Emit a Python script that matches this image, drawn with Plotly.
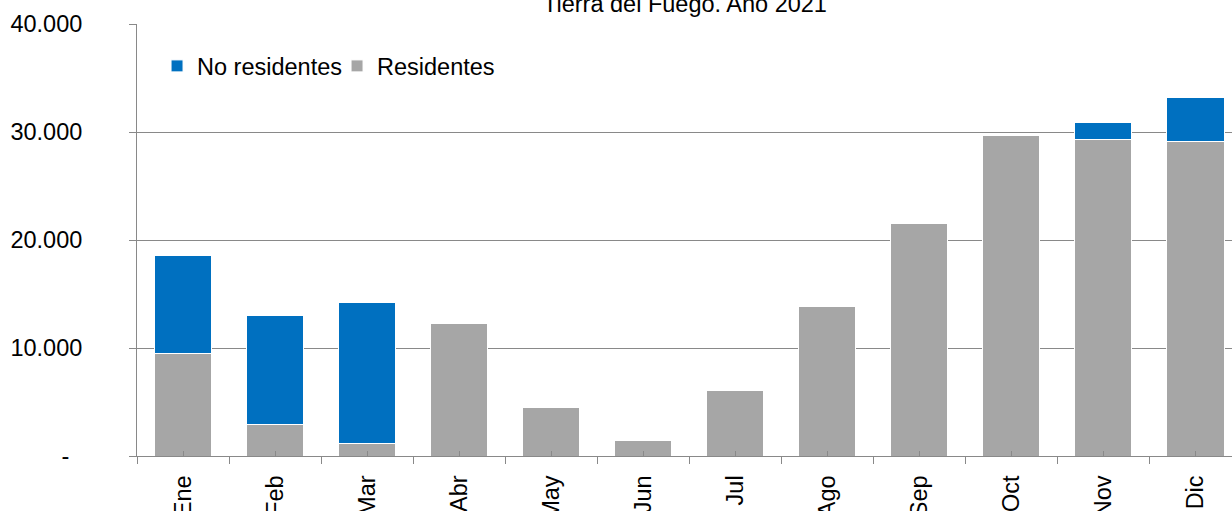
import plotly.graph_objects as go

meses = ["Ene", "Feb", "Mar", "Abr", "May", "Jun", "Jul", "Ago", "Sep", "Oct", "Nov", "Dic"]
residentes = [9450, 2960, 1140, 12310, 4530, 1480, 6020, 13800, 21570, 29720, 29320, 29110]
no_residentes = [9160, 10070, 13060, 0, 0, 0, 0, 0, 0, 0, 1540, 4130]
y_tickvals = [0, 10000, 20000, 30000, 40000]
y_ticktext = ["-\u00a0\u00a0", "10.000", "20.000", "30.000", "40.000"]
titulo = "Tierra del Fuego. Año 2021"

FONT = "Liberation Sans, Arial, sans-serif"
AXIS_COL = "#898989"
FS = 23.5

fig = go.Figure()
fig.add_trace(go.Bar(
    x=meses, y=residentes, name="Residentes",
    marker=dict(color="#A6A6A6", line=dict(color="#FFFFFF", width=1)),
    width=0.63, hoverinfo="skip",
))
fig.add_trace(go.Bar(
    x=meses, y=no_residentes, name="No residentes",
    marker=dict(color="#0070C0", line=dict(color="#FFFFFF", width=1)),
    width=0.63, hoverinfo="skip",
))
# invisible trace to carry the inner (center) tick axis
fig.add_trace(go.Scatter(x=[0], y=[0], xaxis="x2", mode="markers",
                         marker=dict(opacity=0), showlegend=False, hoverinfo="skip"))

xr = [-0.5, 11.402]
fig.update_layout(
    width=1232, height=511,
    margin=dict(l=137, r=0, t=24, b=55, autoexpand=False),
    paper_bgcolor="white", plot_bgcolor="white",
    barmode="stack",
    font=dict(family=FONT, size=FS, color="#000000"),
    showlegend=True,
    legend=dict(orientation="h", x=0.0183, y=0.9025, xanchor="left", yanchor="middle",
                traceorder="reversed", bgcolor="rgba(0,0,0,0)",
                entrywidth=135, entrywidthmode="pixels",
                font=dict(size=FS)),
    xaxis=dict(type="category", range=xr, showgrid=False, showline=True,
               linecolor=AXIS_COL, linewidth=1, ticks="outside", ticklen=7,
               tickcolor=AXIS_COL, tickson="boundaries", tickangle=-90,
               ticklabelstandoff=9, fixedrange=True, automargin=False),
    xaxis2=dict(overlaying="x", anchor="y", range=xr, tickmode="array",
                tickvals=list(range(12)), ticks="inside", ticklen=5,
                tickcolor=AXIS_COL, showticklabels=False, showgrid=False,
                showline=False, zeroline=False, side="bottom", fixedrange=True,
                automargin=False),
    yaxis=dict(range=[0, 40000], tickmode="array", tickvals=y_tickvals, ticktext=y_ticktext,
               showgrid=True, gridcolor=AXIS_COL, gridwidth=1, showline=True,
               linecolor=AXIS_COL, linewidth=1, ticks="outside", ticklen=7,
               tickcolor=AXIS_COL, zeroline=False, ticklabelstandoff=42,
               fixedrange=True, automargin=False),
    annotations=[dict(text=titulo, xref="paper", yref="paper", x=0.5005, y=1.0116,
                      xanchor="center", yanchor="bottom", showarrow=False,
                      font=dict(size=FS, color="#000000"))],
)

fig.write_html("out.html", config={"displayModeBar": False},
               post_script="document.body.style.margin='0';document.body.style.overflow='hidden';")
